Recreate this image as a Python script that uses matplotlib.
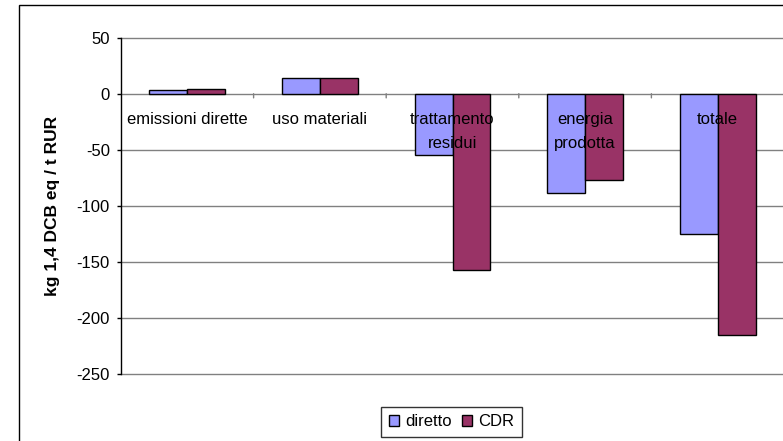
import matplotlib
matplotlib.use("Agg")
import matplotlib.pyplot as plt
from matplotlib.patches import Rectangle
import numpy as np

plt.rcParams['font.family'] = ['Liberation Sans', 'DejaVu Sans']

categories = ["emissioni dirette", "uso materiali", "trattamento\nresidui",
              "energia\nprodotta", "totale"]
diretto = [3.0, 14.3, -54.5, -88.4, -125.5]
cdr = [4.2, 14.3, -157.4, -77.3, -215.7]
series_names = ["diretto", "CDR"]
y_ticks = [50, 0, -50, -100, -150, -200, -250]
y_label = "kg 1,4 DCB eq / t RUR"

W, H = 783, 441
fig = plt.figure(figsize=(W / 100, H / 100), dpi=100)

# outer chart frame
fig.add_artist(Rectangle((19 / W, -0.2), 1.2, 1 - 5 / H + 0.2,
                         transform=fig.transFigure, fill=False,
                         edgecolor='black', linewidth=1.0))

left_px, right_px, top_px, bottom_px = 121, 784, 37.7, 373.7
ax = fig.add_axes([left_px / W, 1 - bottom_px / H,
                   (right_px - left_px) / W, (bottom_px - top_px) / H])

x = np.arange(len(categories))
bw = 0.2857
grid_col = '#808080'

ax.set_ylim(min(y_ticks), max(y_ticks))
ax.set_xlim(-0.5, len(categories) - 0.5)
for t in y_ticks:
    ax.axhline(t, color=grid_col, linewidth=1.0, zorder=1, clip_on=False)

ax.bar(x - bw / 2, diretto, width=bw, color='#9999FF', edgecolor='black',
       linewidth=1.0, zorder=3, label=series_names[0])
ax.bar(x + bw / 2, cdr, width=bw, color='#993366', edgecolor='black',
       linewidth=1.0, zorder=3, label=series_names[1])

# category axis tick marks at the boundaries between groups
for b in x[:-1] + 0.5:
    ax.annotate('', xy=(b, 0), xytext=(0, -3.0), textcoords='offset points',
                arrowprops=dict(arrowstyle='-', color=grid_col, lw=1.0,
                                shrinkA=0, shrinkB=0))

for xi, name in zip(x, categories):
    ax.annotate(name, xy=(xi, 0), xytext=(0, -13.5), textcoords='offset points',
                ha='center', va='top', fontsize=12, color='black',
                linespacing=1.75, zorder=5)

for s in ['top', 'right', 'bottom']:
    ax.spines[s].set_visible(False)
ax.spines['left'].set_color('black')
ax.spines['left'].set_linewidth(1.0)
ax.spines['left'].set_zorder(4)

ax.set_xticks([])
ax.set_yticks(y_ticks)
ax.set_yticklabels([str(t) for t in y_ticks])
ax.tick_params(axis='y', direction='out', length=3, width=1.0, color='black',
               labelsize=12, pad=5)

ax.set_ylabel(y_label, fontsize=12.5, fontweight='bold')
ax.yaxis.set_label_coords(-0.0915, 0.5)

leg = fig.legend(loc='upper center', bbox_to_anchor=(451.5 / W, 1 - 407 / H),
                 ncol=2, fontsize=12, frameon=True, fancybox=False,
                 edgecolor='black', handlelength=0.6, handleheight=0.6,
                 handletextpad=0.4, columnspacing=0.6, borderpad=0.45,
                 borderaxespad=0)
leg.get_frame().set_linewidth(1.0)

fig.savefig("out.png", dpi=100)
